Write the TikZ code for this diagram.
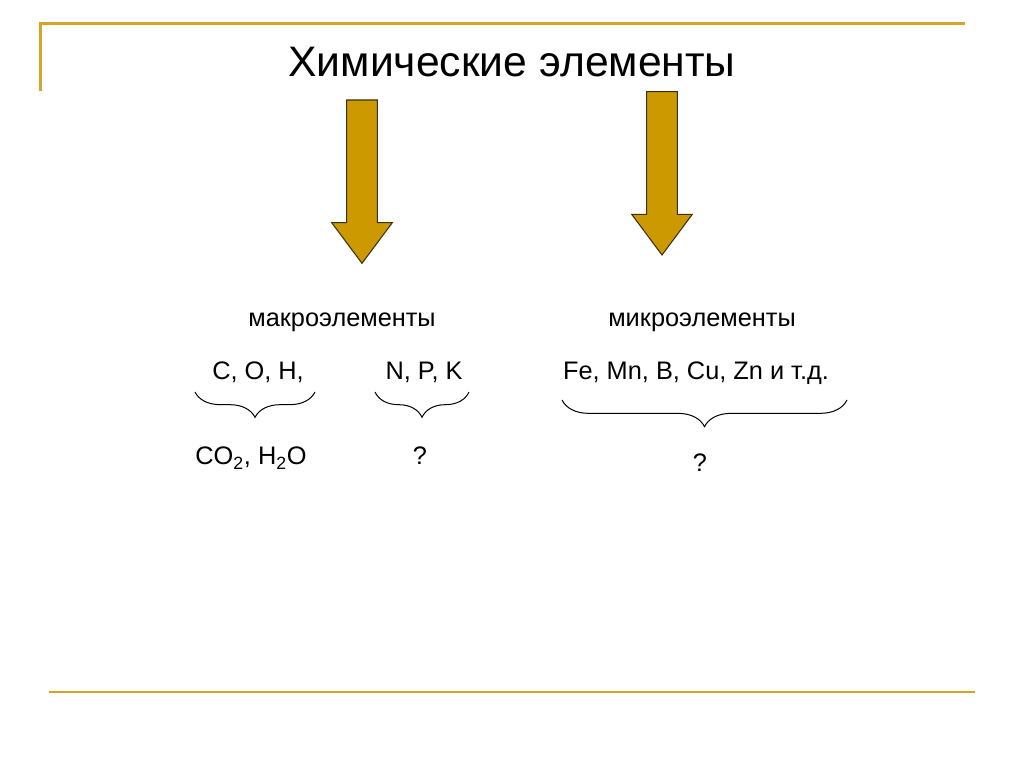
\documentclass[tikz,border=0pt]{standalone}
\usepackage{fontspec}
\setmainfont{Liberation Sans}
\usetikzlibrary{decorations.pathreplacing}
\definecolor{gold}{RGB}{218,163,36}
\definecolor{arrowfill}{RGB}{204,153,0}
\definecolor{arrowdraw}{RGB}{60,48,16}
\tikzset{
  rule/.style={draw=gold, line width=2.2pt},
  bigarrow/.style={fill=arrowfill, draw=arrowdraw, line width=0.8pt, line join=miter},
  lbl/.style={font=\fontsize{19}{22}\selectfont, inner sep=0pt},
  bracestyle/.style={draw, line width=0.75pt, decorate, decoration={brace, mirror, amplitude=#1}}
}
\begin{document}
\begin{tikzpicture}[x=0.75pt,y=-0.75pt]
\useasboundingbox (0,0) rectangle (1024,767);
% frame lines
\draw[rule] (40.7,91.5) -- (40.7,23.3) -- (965,23.3);
\draw[rule] (49,692) -- (975,692);
% title
\node[font=\fontsize{32}{38}\selectfont, inner sep=0pt] (title) at (512,62) {Химические элементы};
% arrows
\draw[bigarrow] (346.7,100) -- (377.3,100) -- (377.3,222.7) -- (392.3,222.7) -- (362,263.3) -- (331.7,222.7) -- (346.7,222.7) -- cycle;
\draw[bigarrow] (646.7,91.7) -- (677.3,91.7) -- (677.3,214.3) -- (692.3,214.3) -- (662,255) -- (631.7,214.3) -- (646.7,214.3) -- cycle;
% labels
\node[lbl] (macro) at (342,322) {макроэлементы};
\node[lbl] (micro) at (702,322) {микроэлементы};
\node[lbl] (coh) at (258,372) {C, O, H,};
\node[lbl] (npk) at (424,372) {N, P, K};
\node[lbl] (fe) at (696,373) {Fe, Mn, B, Cu, Zn и т.д.};
\node[lbl] (co2) at (251,458) {CO\textsubscript{2}, H\textsubscript{2}O};
\node[lbl] (q1) at (420,456) {?};
\node[lbl] (q2) at (700,463) {?};
% braces
\coordinate (b1a) at (195,392);
\coordinate (b1b) at (315,392);
\coordinate (b2a) at (375,392);
\coordinate (b2b) at (469,392);
\coordinate (b3a) at (562,400);
\coordinate (b3b) at (847,400);
\draw[bracestyle=19pt] (b1a) -- (b1b);
\draw[bracestyle=19pt] (b2a) -- (b2b);
\draw[bracestyle=20pt] (b3a) -- (b3b);
\end{tikzpicture}
\end{document}
